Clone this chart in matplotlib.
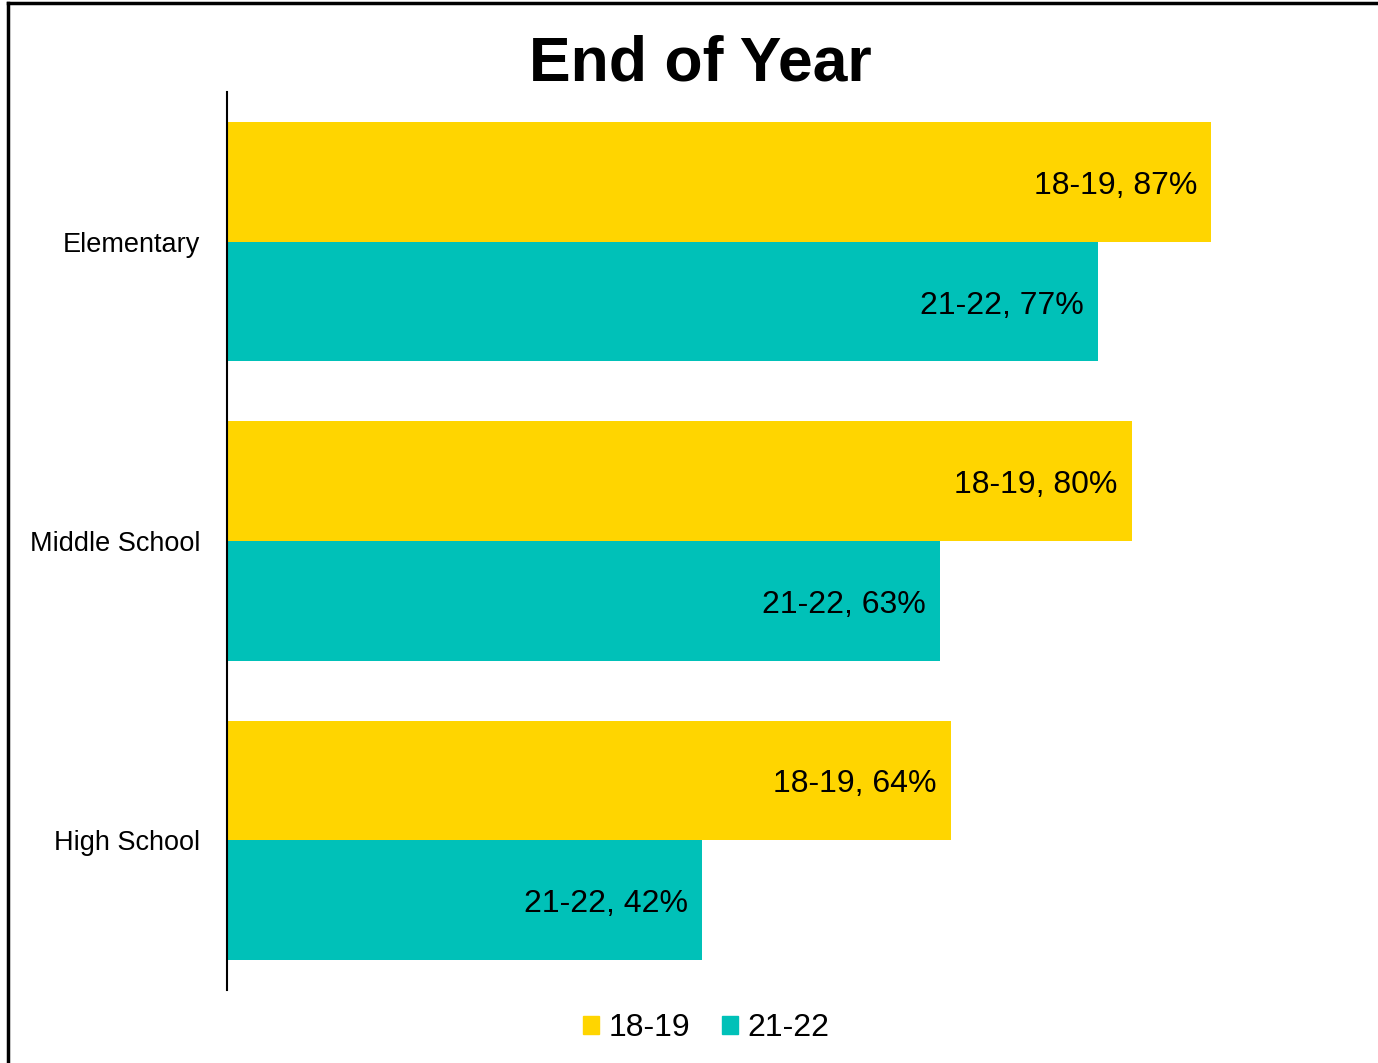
import matplotlib
matplotlib.use("Agg")
import matplotlib.pyplot as plt
from matplotlib.lines import Line2D
from matplotlib.patches import Patch
import numpy as np

categories = ["Elementary", "Middle School", "High School"]
series_names = ["18-19", "21-22"]
values_1819 = [87, 80, 64]
values_2122 = [77, 63, 42]
colors = ["#FFD500", "#00C1B8"]

plt.rcParams["font.family"] = ["Liberation Sans", "DejaVu Sans"]

W, H = 1378, 1063
fig = plt.figure(figsize=(W / 100, H / 100), dpi=100)
ax = fig.add_axes([227 / W, 1 - 990 / H, (1358 - 227) / W, (990 - 92) / H])

y = np.arange(len(categories))
h = 0.4
ax.barh(y - h / 2, values_1819, height=h, color=colors[0], label=series_names[0])
ax.barh(y + h / 2, values_2122, height=h, color=colors[1], label=series_names[1])

for yi, v in zip(y - h / 2, values_1819):
    ax.annotate(f"{series_names[0]}, {v}%", (v, yi), xytext=(-14, -4), textcoords="offset pixels",
                ha="right", va="center", fontsize=23)
for yi, v in zip(y + h / 2, values_2122):
    ax.annotate(f"{series_names[1]}, {v}%", (v, yi), xytext=(-14, -4), textcoords="offset pixels",
                ha="right", va="center", fontsize=23)

ax.set_xlim(0, 100)
ax.set_ylim(2.5, -0.5)
ax.set_yticks(y)
ax.set_yticklabels(categories, fontsize=19.5)
ax.tick_params(axis="y", length=0, pad=19)
ax.set_xticks([])
for s in ["top", "right", "bottom"]:
    ax.spines[s].set_visible(False)
ax.spines["left"].set_linewidth(1.5)

fig.text(700 / W, 1 - 64 / H, "End of Year", ha="center", va="center", fontsize=45, fontweight="bold")

handles = [Patch(color=colors[0]), Patch(color=colors[1])]
fig.legend(handles, series_names, loc="center", bbox_to_anchor=(706 / W, 1 - 1028 / H), ncol=2,
           frameon=False, fontsize=23, handlelength=0.5, handleheight=0.5, handletextpad=0.3,
           columnspacing=1.0)

# border
fig.add_artist(Line2D([8 / W, 8 / W], [0, 1 - 3 / H], color="black", lw=2.5))
fig.add_artist(Line2D([8 / W, 1], [1 - 3 / H, 1 - 3 / H], color="black", lw=2.5))

fig.savefig("out.png", dpi=100)
